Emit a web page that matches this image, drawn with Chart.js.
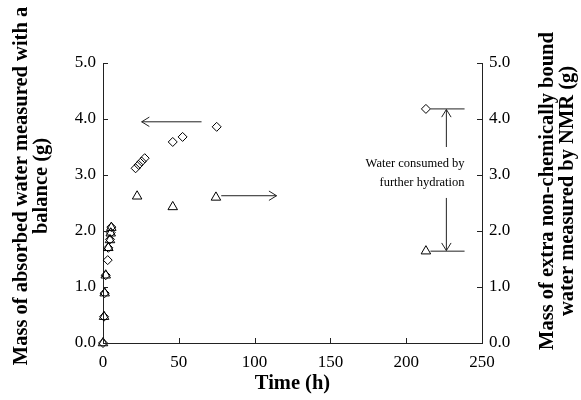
<!DOCTYPE html>
<html>
<head>
<meta charset="utf-8">
<script src="https://cdn.jsdelivr.net/npm/chart.js@4/dist/chart.umd.min.js"></script>
<style>
  html, body { margin: 0; padding: 0; background: #fff; }
  #wrap { width: 581px; height: 400px; }
</style>
</head>
<body>
<div id="wrap"><canvas id="chart" width="581" height="400"></canvas></div>
<script>
// --- DATOS ---
const balanceTime = [0, 0.7, 1.1, 1.8, 3.1, 3.5, 4.6, 5.1, 5.5, 21.5, 23.5, 25.5, 27.5, 46, 52.5, 75, 213];
const balanceMass = [0, 0.47, 0.89, 1.21, 1.48, 1.70, 1.85, 1.97, 2.07, 3.12, 3.18, 3.24, 3.30, 3.59, 3.68, 3.86, 4.18];
const nmrTime = [0, 0.7, 1.1, 1.8, 3.5, 4.6, 5.1, 5.5, 22.5, 46, 74.5, 213];
const nmrMass = [0, 0.47, 0.89, 1.21, 1.70, 1.84, 1.96, 2.06, 2.62, 2.43, 2.60, 1.64];

const xTicks = [0, 50, 100, 150, 200, 250];
const yTicks = [0, 1, 2, 3, 4, 5];

const xTitle = 'Time (h)';
const leftTitle = ['Mass of absorbed water measured with a', 'balance (g)'];
const rightTitle = ['Mass of extra non-chemically bound', 'water measured by NMR (g)'];
const noteLines = ['Water consumed by', 'further hydration'];

// anotaciones en unidades de datos [tiempo, masa]
const leftArrow = [[65, 3.95], [25.5, 3.95]];
const rightArrow = [[78, 2.63], [114.5, 2.63]];
const upArrow = [[226.5, 3.5], [226.5, 4.17]];
const downArrow = [[226.5, 2.59], [226.5, 1.65]];
const topBar = [[216, 4.18], [238.5, 4.18]];
const bottomBar = [[216, 1.64], [238.5, 1.64]];
const notePos = [238.5, 3.2];

const SERIF = "'Liberation Serif', 'DejaVu Serif', serif";
const INK = '#222';

function toPx(chart, p) {
    return [chart.scales.x.getPixelForValue(p[0]), chart.scales.y.getPixelForValue(p[1])];
}

function line(ctx, a, b) {
    ctx.beginPath();
    ctx.moveTo(a[0], a[1]);
    ctx.lineTo(b[0], b[1]);
    ctx.stroke();
}

function arrow(ctx, a, b) {
    line(ctx, a, b);
    const ang = Math.atan2(b[1] - a[1], b[0] - a[0]);
    const len = 9, spread = 0.55;
    ctx.beginPath();
    ctx.moveTo(b[0] - len * Math.cos(ang - spread), b[1] - len * Math.sin(ang - spread));
    ctx.lineTo(b[0], b[1]);
    ctx.lineTo(b[0] - len * Math.cos(ang + spread), b[1] - len * Math.sin(ang + spread));
    ctx.stroke();
}

function verticalTitle(ctx, lines, x0, cy, gap) {
    lines.forEach((t, i) => {
        ctx.save();
        ctx.translate(x0 + i * gap, cy);
        ctx.rotate(-Math.PI / 2);
        ctx.fillText(t, 0, 0);
        ctx.restore();
    });
}

const decor = {
    id: 'decor',
    afterDraw(chart) {
        const { ctx, chartArea: a, scales: { x, y } } = chart;
        ctx.save();
        ctx.strokeStyle = INK;
        ctx.lineWidth = 1;

        // marcas hacia adentro
        ctx.beginPath();
        xTicks.forEach(v => {
            const px = Math.round(x.getPixelForValue(v)) + 0.5;
            ctx.moveTo(px, a.bottom);
            ctx.lineTo(px, a.bottom - 5);
        });
        yTicks.forEach(v => {
            const py = Math.round(y.getPixelForValue(v)) + 0.5;
            ctx.moveTo(a.left, py);
            ctx.lineTo(a.left + 5, py);
            ctx.moveTo(a.right, py);
            ctx.lineTo(a.right - 5, py);
        });
        ctx.stroke();

        // flechas y corchete
        arrow(ctx, toPx(chart, leftArrow[0]), toPx(chart, leftArrow[1]));
        arrow(ctx, toPx(chart, rightArrow[0]), toPx(chart, rightArrow[1]));
        arrow(ctx, toPx(chart, upArrow[0]), toPx(chart, upArrow[1]));
        arrow(ctx, toPx(chart, downArrow[0]), toPx(chart, downArrow[1]));
        line(ctx, toPx(chart, topBar[0]), toPx(chart, topBar[1]));
        line(ctx, toPx(chart, bottomBar[0]), toPx(chart, bottomBar[1]));

        // texto de la nota
        ctx.fillStyle = '#000';
        ctx.font = `12.5px ${SERIF}`;
        ctx.textAlign = 'right';
        ctx.textBaseline = 'middle';
        const np = toPx(chart, notePos);
        noteLines.forEach((t, i) => ctx.fillText(t, np[0], np[1] + i * 19));

        // titulos de ejes
        ctx.font = `bold 20.5px ${SERIF}`;
        ctx.textAlign = 'center';
        ctx.textBaseline = 'middle';
        ctx.fillText(xTitle, (a.left + a.right) / 2, 384);
        verticalTitle(ctx, leftTitle, 22, 186, 20);
        verticalTitle(ctx, rightTitle, 548, 191, 20);
        ctx.restore();
    }
};

const tickFont = { family: SERIF, size: 17 };

function axisY(position, width) {
    return {
        type: 'linear',
        position,
        min: 0,
        max: 5,
        afterBuildTicks: s => { s.ticks = yTicks.map(v => ({ value: v })); },
        ticks: { font: tickFont, color: '#000', padding: 7, callback: v => Number(v).toFixed(1) },
        grid: { display: false, drawTicks: false },
        border: { display: true, color: INK, width: 1 },
        afterFit: s => { s.width = width; }
    };
}

new Chart(document.getElementById('chart'), {
    type: 'scatter',
    data: {
        datasets: [
            {
                label: 'balance',
                data: balanceTime.map((t, i) => ({ x: t, y: balanceMass[i] })),
                yAxisID: 'y',
                pointStyle: 'rectRot',
                pointRadius: 4.5,
                borderColor: '#000',
                backgroundColor: 'rgba(0,0,0,0)',
                borderWidth: 1,
                clip: false
            },
            {
                label: 'nmr',
                data: nmrTime.map((t, i) => ({ x: t, y: nmrMass[i] })),
                yAxisID: 'y2',
                pointStyle: 'triangle',
                pointRadius: 5.5,
                borderColor: '#000',
                backgroundColor: 'rgba(0,0,0,0)',
                borderWidth: 1,
                clip: false
            }
        ]
    },
    options: {
        responsive: false,
        animation: false,
        devicePixelRatio: 1,
        layout: { padding: { top: 63, left: 0, right: 0, bottom: 0 } },
        plugins: { legend: { display: false }, tooltip: { enabled: false } },
        scales: {
            x: {
                type: 'linear',
                min: 0,
                max: 250,
                afterBuildTicks: s => { s.ticks = xTicks.map(v => ({ value: v })); },
                ticks: { font: tickFont, color: '#000', padding: 9 },
                grid: { display: false, drawTicks: false },
                border: { display: true, color: INK, width: 1 },
                afterFit: s => { s.height = 57; }
            },
            y: axisY('left', 103),
            y2: axisY('right', 99)
        }
    },
    plugins: [decor]
});
</script>
</body>
</html>
